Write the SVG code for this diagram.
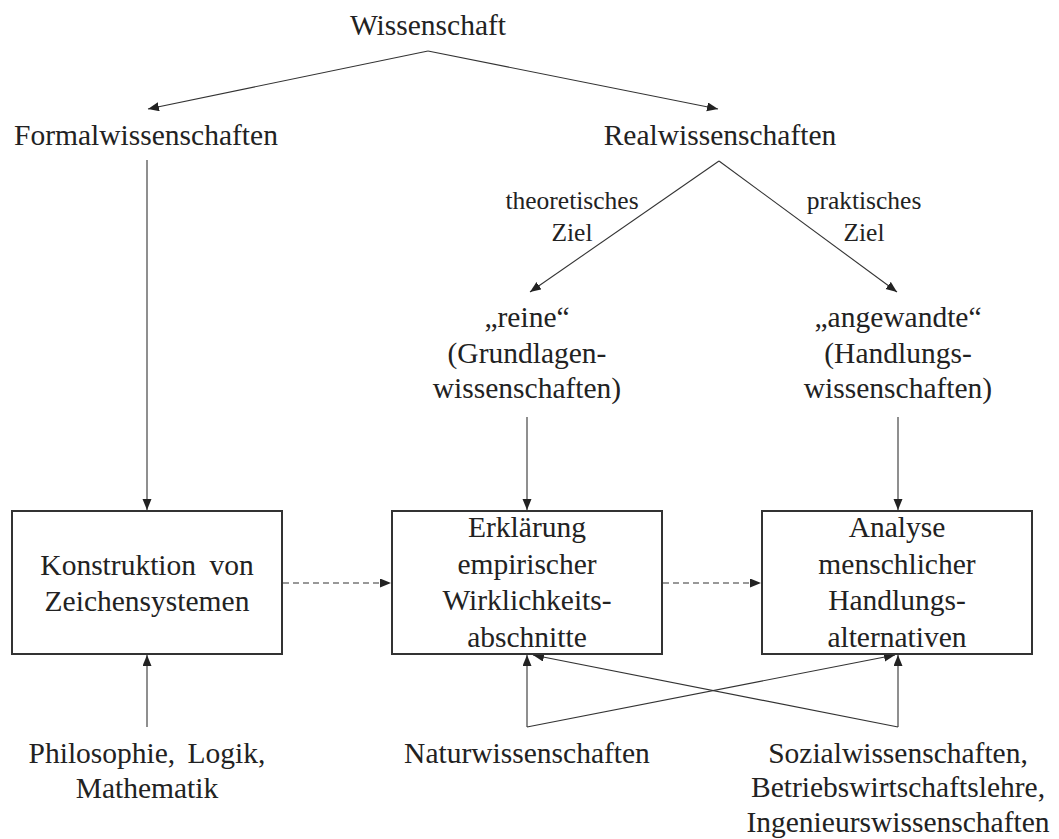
<svg xmlns="http://www.w3.org/2000/svg" width="1059" height="839" viewBox="0 0 1059 839">
<defs>
<marker id="ah" markerUnits="userSpaceOnUse" markerWidth="12" markerHeight="10" refX="11" refY="4.5" orient="auto">
<path d="M0,0 L11,4.5 L0,9 z" fill="#222"/>
</marker>
<style>
.t{font-family:"Liberation Serif","Times New Roman",serif;font-size:29.5px;fill:#222;text-anchor:middle}
.s{font-family:"Liberation Serif","Times New Roman",serif;font-size:25.5px;fill:#222;text-anchor:middle}
.box{fill:#fff;stroke:#333;stroke-width:2}
.c{fill:none;stroke:#333;stroke-width:1.1}
.arr{marker-end:url(#ah)}
.d{stroke-dasharray:6 4}
</style>
</defs>
<rect width="1059" height="839" fill="#fff"/>
<g id="connectors">
<polyline class="c arr" points="428,51 148,109"/>
<polyline class="c arr" points="428,51 718,109"/>
<polyline class="c arr" points="719,161 530,292"/>
<polyline class="c arr" points="719,161 897,292"/>
<line class="c arr" x1="147" y1="160" x2="147" y2="510"/>
<line class="c arr" x1="527" y1="417" x2="527" y2="510"/>
<line class="c arr" x1="898" y1="417" x2="898" y2="510"/>
<line class="c arr" x1="147" y1="727" x2="147" y2="655"/>
<line class="c arr" x1="527" y1="727" x2="527" y2="655"/>
<line class="c arr" x1="898" y1="727" x2="898" y2="655"/>
<line class="c arr" x1="527" y1="727" x2="895" y2="655"/>
<line class="c arr" x1="898" y1="727" x2="533" y2="655"/>
<line class="c arr d" x1="283" y1="583" x2="391" y2="583"/>
<line class="c arr d" x1="663" y1="583" x2="761" y2="583"/>
</g>
<g id="wissenschaft"><text class="t" x="428" y="35">Wissenschaft</text></g>
<g id="formal"><text class="t" x="146" y="145">Formalwissenschaften</text></g>
<g id="real"><text class="t" x="720" y="145">Realwissenschaften</text></g>
<g id="label-theoretisch"><text class="s" x="572" y="209">theoretisches</text><text class="s" x="572" y="241">Ziel</text></g>
<g id="label-praktisch"><text class="s" x="864" y="209">praktisches</text><text class="s" x="864" y="241">Ziel</text></g>
<g id="reine"><text class="t" x="527" y="327">„reine“</text><text class="t" x="527" y="363">(Grundlagen-</text><text class="t" x="527" y="398">wissenschaften)</text></g>
<g id="angewandte"><text class="t" x="898" y="327">„angewandte“</text><text class="t" x="898" y="363">(Handlungs-</text><text class="t" x="898" y="398">wissenschaften)</text></g>
<g id="box-konstruktion"><rect class="box" x="12" y="511" width="270" height="143"/><text class="t" x="147" y="575" word-spacing="6">Konstruktion von</text><text class="t" x="147" y="611">Zeichensystemen</text></g>
<g id="box-erklaerung"><rect class="box" x="392" y="511" width="270" height="143"/><text class="t" x="527" y="537">Erklärung</text><text class="t" x="527" y="574">empirischer</text><text class="t" x="527" y="610">Wirklichkeits-</text><text class="t" x="527" y="647">abschnitte</text></g>
<g id="box-analyse"><rect class="box" x="762" y="511" width="270" height="143"/><text class="t" x="897" y="537">Analyse</text><text class="t" x="897" y="574">menschlicher</text><text class="t" x="897" y="610">Handlungs-</text><text class="t" x="897" y="647">alternativen</text></g>
<g id="philosophie"><text class="t" x="147" y="763" word-spacing="5">Philosophie, Logik,</text><text class="t" x="147" y="798">Mathematik</text></g>
<g id="natur"><text class="t" x="527" y="763">Naturwissenschaften</text></g>
<g id="sozial"><text class="t" x="898" y="763">Sozialwissenschaften,</text><text class="t" x="898" y="797">Betriebswirtschaftslehre,</text><text class="t" x="898" y="832">Ingenieurswissenschaften</text></g>
</svg>
